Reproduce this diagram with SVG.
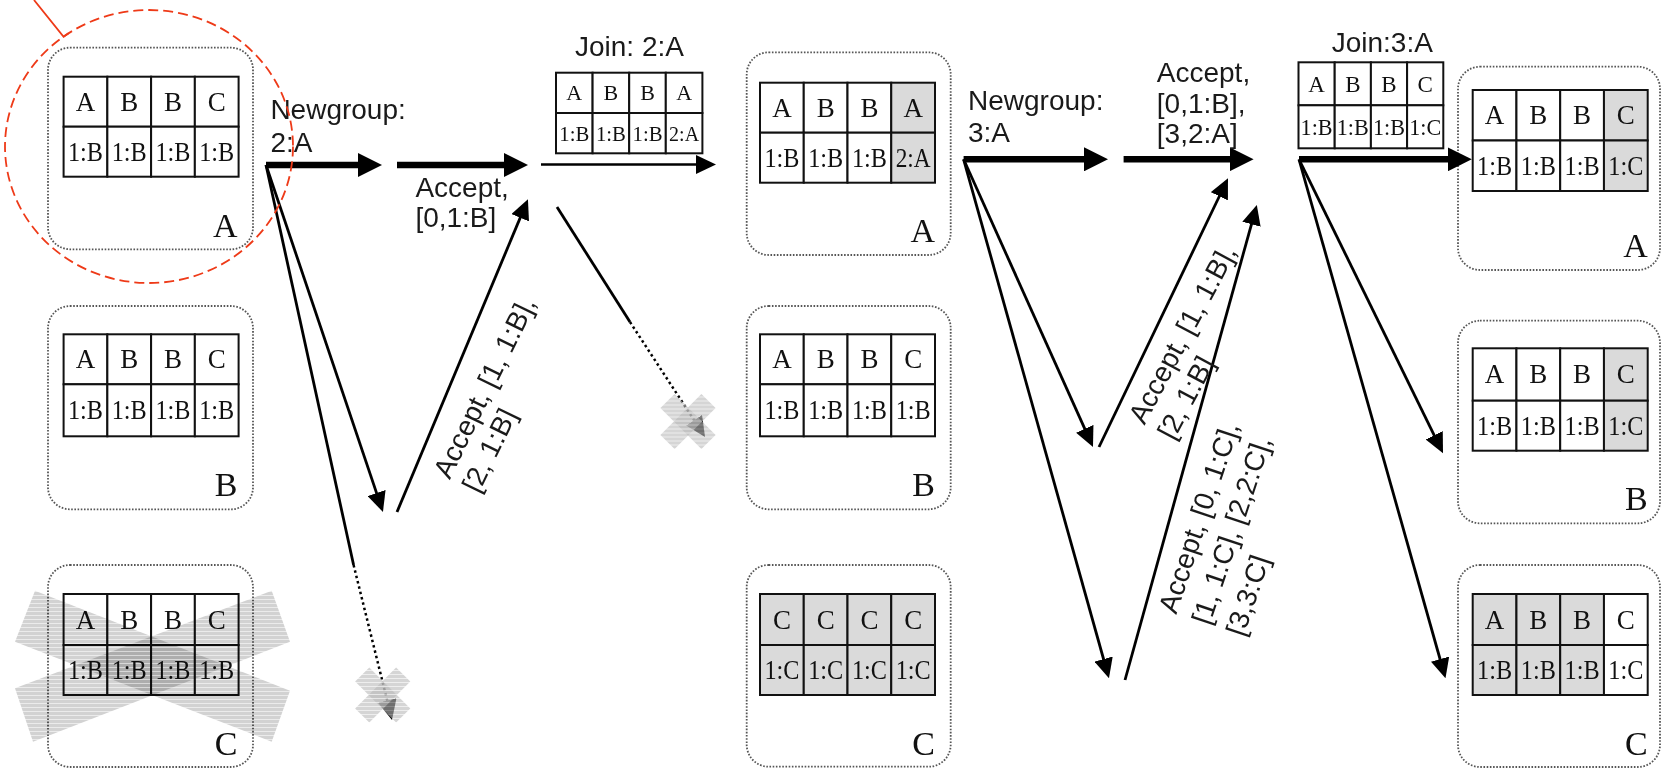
<svg xmlns="http://www.w3.org/2000/svg" width="1662" height="771" viewBox="0 0 1662 771">
<style>
.box{fill:none;stroke:#555;stroke-width:1.8;stroke-dasharray:1.6 1.6}
.c{fill:#fff;stroke:#111;stroke-width:2}
.g{fill:#dadada}
.t{font-family:"Liberation Serif",serif;font-size:27px;text-anchor:middle;fill:#111}
.ts{font-size:22px}
.t3{font-size:23px}
.nl{font-family:"Liberation Serif",serif;font-size:34px;text-anchor:end;fill:#111}
.lb{font-family:"Liberation Sans",Arial,sans-serif;font-size:28px;fill:#1a1a1a}
.thick{stroke:#000;stroke-width:6.5;fill:none;marker-end:url(#hb)}
.thin{stroke:#000;stroke-width:2.8;fill:none;marker-end:url(#hs)}
.solid{stroke:#000;stroke-width:2.8;fill:none}
.dot{stroke:#000;stroke-width:2.5;stroke-dasharray:2.5 3;fill:none;marker-end:url(#hs)}
.xbar{fill:url(#stripe);opacity:0.6}
.xbig{fill:url(#stripe2);mix-blend-mode:multiply}
.red{fill:none;stroke:#ee3a18;stroke-width:1.8}
</style>
<defs>
<marker id="hb" markerUnits="userSpaceOnUse" markerWidth="24" markerHeight="24" refX="2" refY="12" orient="auto"><path d="M0,0 L24,12 L0,24 Z" fill="#000"/></marker>
<marker id="hs" markerUnits="userSpaceOnUse" markerWidth="20" markerHeight="19" refX="2" refY="9.5" orient="auto"><path d="M0,0 L20,9.5 L0,19 Z" fill="#000"/></marker>
<pattern id="stripe" patternUnits="userSpaceOnUse" width="4" height="4"><rect width="4" height="4" fill="#b9b9b9"/><rect y="3" width="4" height="1" fill="#e2e2e2"/></pattern>
<pattern id="stripe2" patternUnits="userSpaceOnUse" width="4" height="4"><rect width="4" height="4" fill="#d2d2d2"/><rect y="3" width="4" height="1" fill="#ebebeb"/></pattern>
</defs>
<rect width="1662" height="771" fill="#fff"/>

<!-- Column 1 -->
<g id="nodeA1">
<rect class="box" x="48" y="47.7" width="205" height="201.6" rx="22"/>
<rect class="c" x="63.6" y="76.7" width="43.75" height="50"/><rect class="c" x="107.35" y="76.7" width="43.75" height="50"/><rect class="c" x="151.1" y="76.7" width="43.75" height="50"/><rect class="c" x="194.85" y="76.7" width="43.75" height="50"/>
<rect class="c" x="63.6" y="126.7" width="43.75" height="50"/><rect class="c" x="107.35" y="126.7" width="43.75" height="50"/><rect class="c" x="151.1" y="126.7" width="43.75" height="50"/><rect class="c" x="194.85" y="126.7" width="43.75" height="50"/>
<text class="t" x="85.5" y="110.7">A</text><text class="t" x="129.25" y="110.7">B</text><text class="t" x="173" y="110.7">B</text><text class="t" x="216.75" y="110.7">C</text>
<text class="t" x="85.5" y="160.7" textLength="35" lengthAdjust="spacingAndGlyphs">1:B</text><text class="t" x="129.25" y="160.7" textLength="35" lengthAdjust="spacingAndGlyphs">1:B</text><text class="t" x="173" y="160.7" textLength="35" lengthAdjust="spacingAndGlyphs">1:B</text><text class="t" x="216.75" y="160.7" textLength="35" lengthAdjust="spacingAndGlyphs">1:B</text>
<text class="nl" x="237.5" y="237">A</text>
</g>
<g id="nodeB1">
<rect class="box" x="48" y="306" width="205" height="203.3" rx="22"/>
<rect class="c" x="63.6" y="334.3" width="43.75" height="50"/><rect class="c" x="107.35" y="334.3" width="43.75" height="50"/><rect class="c" x="151.1" y="334.3" width="43.75" height="50"/><rect class="c" x="194.85" y="334.3" width="43.75" height="50"/>
<rect class="c" x="63.6" y="384.3" width="43.75" height="52"/><rect class="c" x="107.35" y="384.3" width="43.75" height="52"/><rect class="c" x="151.1" y="384.3" width="43.75" height="52"/><rect class="c" x="194.85" y="384.3" width="43.75" height="52"/>
<text class="t" x="85.5" y="368.3">A</text><text class="t" x="129.25" y="368.3">B</text><text class="t" x="173" y="368.3">B</text><text class="t" x="216.75" y="368.3">C</text>
<text class="t" x="85.5" y="419" textLength="35" lengthAdjust="spacingAndGlyphs">1:B</text><text class="t" x="129.25" y="419" textLength="35" lengthAdjust="spacingAndGlyphs">1:B</text><text class="t" x="173" y="419" textLength="35" lengthAdjust="spacingAndGlyphs">1:B</text><text class="t" x="216.75" y="419" textLength="35" lengthAdjust="spacingAndGlyphs">1:B</text>
<text class="nl" x="237.5" y="496">B</text>
</g>
<g id="nodeC1">
<rect class="box" x="48" y="565" width="205" height="202" rx="22"/>
<rect class="c" x="63.6" y="594" width="43.75" height="51"/><rect class="c" x="107.35" y="594" width="43.75" height="51"/><rect class="c" x="151.1" y="594" width="43.75" height="51"/><rect class="c" x="194.85" y="594" width="43.75" height="51"/>
<rect class="c" x="63.6" y="645" width="43.75" height="50"/><rect class="c" x="107.35" y="645" width="43.75" height="50"/><rect class="c" x="151.1" y="645" width="43.75" height="50"/><rect class="c" x="194.85" y="645" width="43.75" height="50"/>
<text class="t" x="85.5" y="628.5">A</text><text class="t" x="129.25" y="628.5">B</text><text class="t" x="173" y="628.5">B</text><text class="t" x="216.75" y="628.5">C</text>
<text class="t" x="85.5" y="679" textLength="35" lengthAdjust="spacingAndGlyphs">1:B</text><text class="t" x="129.25" y="679" textLength="35" lengthAdjust="spacingAndGlyphs">1:B</text><text class="t" x="173" y="679" textLength="35" lengthAdjust="spacingAndGlyphs">1:B</text><text class="t" x="216.75" y="679" textLength="35" lengthAdjust="spacingAndGlyphs">1:B</text>
<text class="nl" x="237.5" y="755">C</text>
</g>

<!-- Column 2 -->
<g id="join2">
<text class="lb" x="575" y="56">Join: 2:A</text>
<rect class="c" x="556" y="72.7" width="36.6" height="40.3"/><rect class="c" x="592.6" y="72.7" width="36.6" height="40.3"/><rect class="c" x="629.2" y="72.7" width="36.6" height="40.3"/><rect class="c" x="665.8" y="72.7" width="36.6" height="40.3"/>
<rect class="c" x="556" y="113" width="36.6" height="40.3"/><rect class="c" x="592.6" y="113" width="36.6" height="40.3"/><rect class="c" x="629.2" y="113" width="36.6" height="40.3"/><rect class="c" x="665.8" y="113" width="36.6" height="40.3"/>
<text class="t ts" x="574.3" y="100.2">A</text><text class="t ts" x="610.9" y="100.2">B</text><text class="t ts" x="647.5" y="100.2">B</text><text class="t ts" x="684.1" y="100.2">A</text>
<text class="t ts" x="574.3" y="140.5" textLength="30" lengthAdjust="spacingAndGlyphs">1:B</text><text class="t ts" x="610.9" y="140.5" textLength="30" lengthAdjust="spacingAndGlyphs">1:B</text><text class="t ts" x="647.5" y="140.5" textLength="30" lengthAdjust="spacingAndGlyphs">1:B</text><text class="t ts" x="684.1" y="140.5" textLength="30" lengthAdjust="spacingAndGlyphs">2:A</text>
</g>
<g id="nodeA2">
<rect class="box" x="746.7" y="52.3" width="204" height="202.7" rx="22"/>
<rect class="c" x="760" y="82.7" width="43.75" height="50"/><rect class="c" x="803.75" y="82.7" width="43.75" height="50"/><rect class="c" x="847.5" y="82.7" width="43.75" height="50"/><rect class="c g" x="891.25" y="82.7" width="43.75" height="50"/>
<rect class="c" x="760" y="132.7" width="43.75" height="50"/><rect class="c" x="803.75" y="132.7" width="43.75" height="50"/><rect class="c" x="847.5" y="132.7" width="43.75" height="50"/><rect class="c g" x="891.25" y="132.7" width="43.75" height="50"/>
<text class="t" x="781.9" y="116.7">A</text><text class="t" x="825.65" y="116.7">B</text><text class="t" x="869.4" y="116.7">B</text><text class="t" x="913.15" y="116.7">A</text>
<text class="t" x="781.9" y="166.7" textLength="35" lengthAdjust="spacingAndGlyphs">1:B</text><text class="t" x="825.65" y="166.7" textLength="35" lengthAdjust="spacingAndGlyphs">1:B</text><text class="t" x="869.4" y="166.7" textLength="35" lengthAdjust="spacingAndGlyphs">1:B</text><text class="t" x="913.15" y="166.7" textLength="35" lengthAdjust="spacingAndGlyphs">2:A</text>
<text class="nl" x="935" y="242">A</text>
</g>
<g id="nodeB2">
<rect class="box" x="746.7" y="306" width="204" height="203.3" rx="22"/>
<rect class="c" x="760" y="334.3" width="43.75" height="50"/><rect class="c" x="803.75" y="334.3" width="43.75" height="50"/><rect class="c" x="847.5" y="334.3" width="43.75" height="50"/><rect class="c" x="891.25" y="334.3" width="43.75" height="50"/>
<rect class="c" x="760" y="384.3" width="43.75" height="52"/><rect class="c" x="803.75" y="384.3" width="43.75" height="52"/><rect class="c" x="847.5" y="384.3" width="43.75" height="52"/><rect class="c" x="891.25" y="384.3" width="43.75" height="52"/>
<text class="t" x="781.9" y="368.3">A</text><text class="t" x="825.65" y="368.3">B</text><text class="t" x="869.4" y="368.3">B</text><text class="t" x="913.15" y="368.3">C</text>
<text class="t" x="781.9" y="419" textLength="35" lengthAdjust="spacingAndGlyphs">1:B</text><text class="t" x="825.65" y="419" textLength="35" lengthAdjust="spacingAndGlyphs">1:B</text><text class="t" x="869.4" y="419" textLength="35" lengthAdjust="spacingAndGlyphs">1:B</text><text class="t" x="913.15" y="419" textLength="35" lengthAdjust="spacingAndGlyphs">1:B</text>
<text class="nl" x="935" y="496">B</text>
</g>
<g id="nodeC2">
<rect class="box" x="746.7" y="565" width="204" height="201.7" rx="22"/>
<rect class="c g" x="760" y="594" width="43.75" height="51"/><rect class="c g" x="803.75" y="594" width="43.75" height="51"/><rect class="c g" x="847.5" y="594" width="43.75" height="51"/><rect class="c g" x="891.25" y="594" width="43.75" height="51"/>
<rect class="c g" x="760" y="645" width="43.75" height="50"/><rect class="c g" x="803.75" y="645" width="43.75" height="50"/><rect class="c g" x="847.5" y="645" width="43.75" height="50"/><rect class="c g" x="891.25" y="645" width="43.75" height="50"/>
<text class="t" x="781.9" y="628.5">C</text><text class="t" x="825.65" y="628.5">C</text><text class="t" x="869.4" y="628.5">C</text><text class="t" x="913.15" y="628.5">C</text>
<text class="t" x="781.9" y="679" textLength="35" lengthAdjust="spacingAndGlyphs">1:C</text><text class="t" x="825.65" y="679" textLength="35" lengthAdjust="spacingAndGlyphs">1:C</text><text class="t" x="869.4" y="679" textLength="35" lengthAdjust="spacingAndGlyphs">1:C</text><text class="t" x="913.15" y="679" textLength="35" lengthAdjust="spacingAndGlyphs">1:C</text>
<text class="nl" x="935" y="755">C</text>
</g>

<!-- Column 3 -->
<g id="join3">
<text class="lb" x="1331.7" y="51.7">Join:3:A</text>
<rect class="c" x="1298.5" y="62.3" width="36.2" height="43"/><rect class="c" x="1334.7" y="62.3" width="36.2" height="43"/><rect class="c" x="1370.9" y="62.3" width="36.2" height="43"/><rect class="c" x="1407.1" y="62.3" width="36.2" height="43"/>
<rect class="c" x="1298.5" y="105.3" width="36.2" height="43"/><rect class="c" x="1334.7" y="105.3" width="36.2" height="43"/><rect class="c" x="1370.9" y="105.3" width="36.2" height="43"/><rect class="c" x="1407.1" y="105.3" width="36.2" height="43"/>
<text class="t t3" x="1316.6" y="91.5">A</text><text class="t t3" x="1352.8" y="91.5">B</text><text class="t t3" x="1389" y="91.5">B</text><text class="t t3" x="1425.2" y="91.5">C</text>
<text class="t t3" x="1316.6" y="134.5" textLength="32" lengthAdjust="spacingAndGlyphs">1:B</text><text class="t t3" x="1352.8" y="134.5" textLength="32" lengthAdjust="spacingAndGlyphs">1:B</text><text class="t t3" x="1389" y="134.5" textLength="32" lengthAdjust="spacingAndGlyphs">1:B</text><text class="t t3" x="1425.2" y="134.5" textLength="32" lengthAdjust="spacingAndGlyphs">1:C</text>
</g>
<g id="nodeA3">
<rect class="box" x="1458" y="66.7" width="202" height="203.3" rx="22"/>
<rect class="c" x="1472.7" y="90" width="43.75" height="50.5"/><rect class="c" x="1516.45" y="90" width="43.75" height="50.5"/><rect class="c" x="1560.2" y="90" width="43.75" height="50.5"/><rect class="c g" x="1603.95" y="90" width="43.75" height="50.5"/>
<rect class="c" x="1472.7" y="140.5" width="43.75" height="50.5"/><rect class="c" x="1516.45" y="140.5" width="43.75" height="50.5"/><rect class="c" x="1560.2" y="140.5" width="43.75" height="50.5"/><rect class="c g" x="1603.95" y="140.5" width="43.75" height="50.5"/>
<text class="t" x="1494.6" y="124">A</text><text class="t" x="1538.35" y="124">B</text><text class="t" x="1582.1" y="124">B</text><text class="t" x="1625.85" y="124">C</text>
<text class="t" x="1494.6" y="174.5" textLength="35" lengthAdjust="spacingAndGlyphs">1:B</text><text class="t" x="1538.35" y="174.5" textLength="35" lengthAdjust="spacingAndGlyphs">1:B</text><text class="t" x="1582.1" y="174.5" textLength="35" lengthAdjust="spacingAndGlyphs">1:B</text><text class="t" x="1625.85" y="174.5" textLength="35" lengthAdjust="spacingAndGlyphs">1:C</text>
<text class="nl" x="1647.7" y="257.3">A</text>
</g>
<g id="nodeB3">
<rect class="box" x="1458" y="320.7" width="202" height="202.6" rx="22"/>
<rect class="c" x="1472.7" y="348.3" width="43.75" height="52.4"/><rect class="c" x="1516.45" y="348.3" width="43.75" height="52.4"/><rect class="c" x="1560.2" y="348.3" width="43.75" height="52.4"/><rect class="c g" x="1603.95" y="348.3" width="43.75" height="52.4"/>
<rect class="c" x="1472.7" y="400.7" width="43.75" height="50"/><rect class="c" x="1516.45" y="400.7" width="43.75" height="50"/><rect class="c" x="1560.2" y="400.7" width="43.75" height="50"/><rect class="c g" x="1603.95" y="400.7" width="43.75" height="50"/>
<text class="t" x="1494.6" y="383">A</text><text class="t" x="1538.35" y="383">B</text><text class="t" x="1582.1" y="383">B</text><text class="t" x="1625.85" y="383">C</text>
<text class="t" x="1494.6" y="434.7" textLength="35" lengthAdjust="spacingAndGlyphs">1:B</text><text class="t" x="1538.35" y="434.7" textLength="35" lengthAdjust="spacingAndGlyphs">1:B</text><text class="t" x="1582.1" y="434.7" textLength="35" lengthAdjust="spacingAndGlyphs">1:B</text><text class="t" x="1625.85" y="434.7" textLength="35" lengthAdjust="spacingAndGlyphs">1:C</text>
<text class="nl" x="1647.7" y="509.5">B</text>
</g>
<g id="nodeC3">
<rect class="box" x="1458" y="565" width="202" height="202" rx="22"/>
<rect class="c g" x="1472.7" y="594" width="43.75" height="51"/><rect class="c g" x="1516.45" y="594" width="43.75" height="51"/><rect class="c g" x="1560.2" y="594" width="43.75" height="51"/><rect class="c" x="1603.95" y="594" width="43.75" height="51"/>
<rect class="c g" x="1472.7" y="645" width="43.75" height="50"/><rect class="c g" x="1516.45" y="645" width="43.75" height="50"/><rect class="c g" x="1560.2" y="645" width="43.75" height="50"/><rect class="c" x="1603.95" y="645" width="43.75" height="50"/>
<text class="t" x="1494.6" y="628.5">A</text><text class="t" x="1538.35" y="628.5">B</text><text class="t" x="1582.1" y="628.5">B</text><text class="t" x="1625.85" y="628.5">C</text>
<text class="t" x="1494.6" y="679" textLength="35" lengthAdjust="spacingAndGlyphs">1:B</text><text class="t" x="1538.35" y="679" textLength="35" lengthAdjust="spacingAndGlyphs">1:B</text><text class="t" x="1582.1" y="679" textLength="35" lengthAdjust="spacingAndGlyphs">1:B</text><text class="t" x="1625.85" y="679" textLength="35" lengthAdjust="spacingAndGlyphs">1:C</text>
<text class="nl" x="1647.7" y="755">C</text>
</g>

<!-- Connectors -->
<g id="connectors">
<line class="thick" x1="266" y1="165" x2="360" y2="165"/>
<line class="thick" x1="397" y1="165" x2="506" y2="165"/>
<line class="thin" x1="541" y1="164.5" x2="698" y2="164.5" style="stroke-width:2.5"/>
<line class="thin" x1="266" y1="165" x2="377.2" y2="494.9"/>
<line class="solid" x1="266" y1="165" x2="353.6" y2="565"/>
<line class="dot" x1="353.6" y1="565" x2="387.7" y2="702.5"/>
<line class="thin" x1="397" y1="512" x2="521" y2="215.9"/>
<line class="solid" x1="557" y1="207" x2="630" y2="322"/>
<line class="dot" x1="630" y1="322" x2="695.2" y2="421.9"/>

<line class="thick" x1="963.6" y1="159.3" x2="1086" y2="159.3"/>
<line class="thick" x1="1123.6" y1="159.3" x2="1231.6" y2="159.3"/>
<line class="thin" x1="963.6" y1="159.3" x2="1085.6" y2="430.6"/>
<line class="thin" x1="963.6" y1="159.3" x2="1104.1" y2="661"/>
<line class="thin" x1="1099" y1="447" x2="1220.2" y2="194.5"/>
<line class="thin" x1="1125" y1="680" x2="1252" y2="222.3"/>

<line class="thick" x1="1299" y1="159.3" x2="1449.8" y2="159.3"/>
<line class="thin" x1="1299" y1="159.3" x2="1435.1" y2="437.1"/>
<line class="thin" x1="1299" y1="159.3" x2="1440.6" y2="661"/>

<text class="lb" x="270.4" y="119.3">Newgroup:</text>
<text class="lb" x="270.4" y="151.7">2:A</text>
<text class="lb" x="415.4" y="196.7">Accept,</text>
<text class="lb" x="415.4" y="227">[0,1:B]</text>
<text class="lb" transform="translate(449.8,480.3) rotate(-64)"><tspan x="0" y="0">Accept, [1, 1:B],</tspan><tspan x="0" y="32">[2, 1:B]</tspan></text>

<text class="lb" x="968" y="110">Newgroup:</text>
<text class="lb" x="968" y="141.7">3:A</text>
<text class="lb" x="1156.8" y="81.7">Accept,</text>
<text class="lb" x="1156.8" y="113.3">[0,1:B],</text>
<text class="lb" x="1156.8" y="143.3">[3,2:A]</text>
<text class="lb" transform="translate(1144.4,425.8) rotate(-62)"><tspan x="0" y="0">Accept, [1, 1:B],</tspan><tspan x="0" y="33">[2, 1:B]</tspan></text>
<text class="lb" transform="translate(1176.3,614.9) rotate(-71.5)"><tspan x="0" y="0">Accept, [0, 1:C],</tspan><tspan x="0" y="35">[1, 1:C], [2,2:C],</tspan><tspan x="0" y="71">[3,3:C]</tspan></text>
</g>

<!-- Cross-outs -->
<g id="crossC1">
<polygon class="xbig" points="35,590.7 290,690.7 271.7,741.7 15,641.7"/>
<polygon class="xbig" points="271.7,590.7 290,641.7 33,741.7 15,688.3"/>
</g>
<g id="crossMsg1" transform="translate(382.7,695)">
<polygon class="xbar" points="-13.4,-27.6 27.6,13.4 13.4,27.6 -27.6,-13.4"/>
<polygon class="xbar" points="13.4,-27.6 27.6,-13.4 -13.4,27.6 -27.6,13.4"/>
</g>
<g id="crossMsg2" transform="translate(688,421.5)">
<polygon class="xbar" points="-13.4,-27.6 27.6,13.4 13.4,27.6 -27.6,-13.4"/>
<polygon class="xbar" points="13.4,-27.6 27.6,-13.4 -13.4,27.6 -27.6,13.4"/>
</g>

<!-- Highlight -->
<g id="highlight">
<ellipse class="red" cx="149" cy="146.5" rx="144" ry="136.5" stroke-dasharray="10 5"/>
<polyline class="red" points="34,0 63.6,36.7 68.6,33.3"/>
</g>
</svg>
